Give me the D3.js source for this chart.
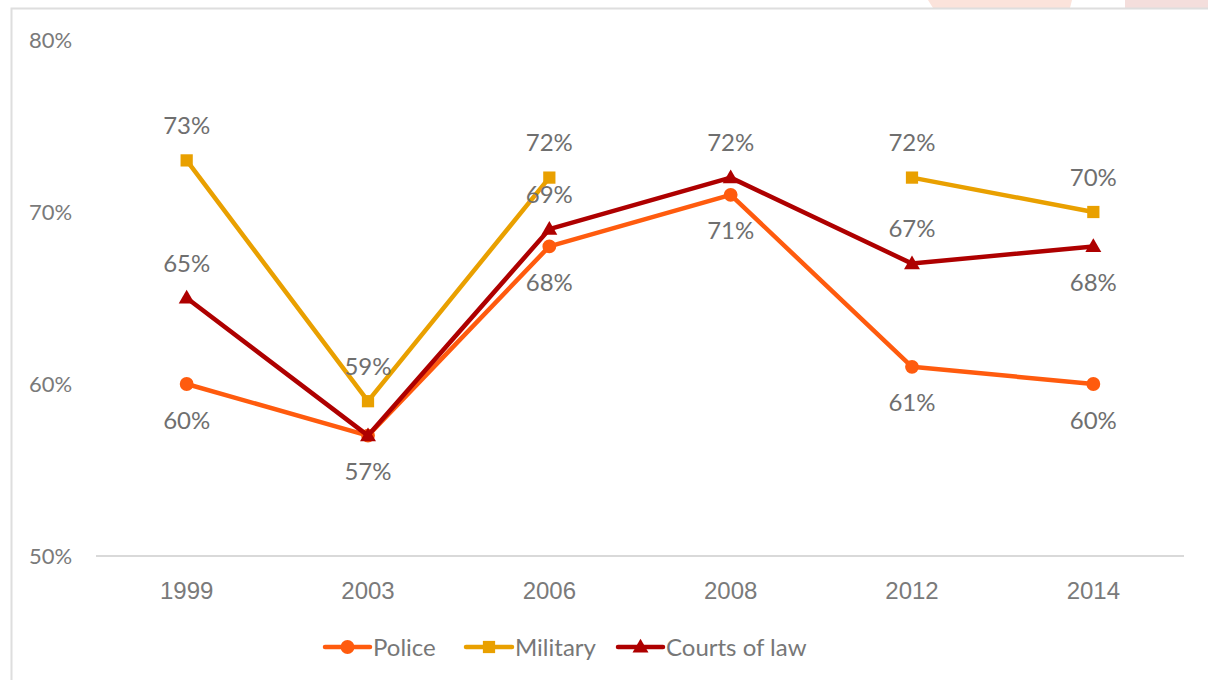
<!DOCTYPE html>
<html>
<head>
<meta charset="utf-8">
<script src="https://cdn.jsdelivr.net/npm/d3@7"></script>
<style>
  html, body { margin: 0; padding: 0; background: #fff; }
  svg { display: block; font-family: "Century Gothic", Lato, "DejaVu Sans", sans-serif; }
</style>
</head>
<body>
<svg id="chart" width="1208" height="680"></svg>
<script>
// Survey years and trust levels (%) per institution
const years = ["1999", "2003", "2006", "2008", "2012", "2014"];
const police = [60, 57, 68, 71, 61, 60];
const military = [73, 59, 72, null, 72, 70];
const courts = [65, 57, 69, 72, 67, 68];
const yTicks = [50, 60, 70, 80];

// where each value label sits relative to its point ("none" = shares the police label)
const policeLabelSide = ["below", "below", "below", "below", "below", "below"];
const militaryLabelSide = ["above", "above", "above", "above", "above", "above"];
const courtsLabelSide = ["above", "none", "above", "above", "above", "below"];

const series = [
  { name: "Police", values: police, sides: policeLabelSide, color: "#FF5B0E", shape: "circle" },
  { name: "Military", values: military, sides: militaryLabelSide, color: "#E9A000", shape: "square" },
  { name: "Courts of law", values: courts, sides: courtsLabelSide, color: "#AE0000", shape: "triangle" }
];

const svg = d3.select("#chart");

// decorative header strip and frame
svg.append("polygon").attr("points", "928,0 1072,0 1070,8 933,8").attr("fill", "#FBE3DB");
svg.append("polygon").attr("points", "1125,0 1208,0 1208,8 1125,8").attr("fill", "#F4DEDC");
svg.append("rect").attr("x", 11.5).attr("y", 8.5).attr("width", 1210).attr("height", 700)
  .attr("fill", "none").attr("stroke", "#DEDEDE").attr("stroke-width", 2);

const plot = { left: 96, right: 1184, top: 40, bottom: 556 };

const x = d3.scaleBand().domain(years).range([plot.left, plot.right]).padding(0);
const y = d3.scaleLinear().domain([50, 80]).range([plot.bottom, plot.top]);
const cx = d => x(d) + x.bandwidth() / 2;

// baseline
svg.append("line")
  .attr("x1", plot.left).attr("x2", plot.right)
  .attr("y1", y(50)).attr("y2", y(50))
  .attr("stroke", "#D9D9D9").attr("stroke-width", 2);

// y tick labels
svg.append("g").selectAll("text").data(yTicks).join("text")
  .attr("x", 29).attr("y", d => y(d)).attr("dy", "0.36em")
  .attr("fill", "#7A7A7A").attr("font-size", 22)
  .text(d => d + "%");

// x tick labels
const xAxis = d3.axisBottom(x).tickSize(0).tickPadding(0);
const gx = svg.append("g").attr("transform", `translate(0,${y(50)})`).call(xAxis);
gx.select(".domain").remove();
gx.selectAll("text")
  .attr("y", 34).attr("dy", "0.36em")
  .attr("fill", "#7A7A7A").attr("font-size", 24).attr("font-family", null);

const tri = d3.symbol().type(d3.symbolTriangle).size(110);
const sq = d3.symbol().type(d3.symbolSquare).size(150);
const circ = d3.symbol().type(d3.symbolCircle).size(150);
const symFor = s => s === "circle" ? circ : s === "square" ? sq : tri;

const line = d3.line()
  .defined(d => d.v != null)
  .x(d => cx(d.year))
  .y(d => y(d.v));

series.forEach(s => {
  const pts = years.map((yr, i) => ({ year: yr, v: s.values[i], side: s.sides[i] }));
  const g = svg.append("g");
  g.append("path").datum(pts)
    .attr("d", line)
    .attr("fill", "none").attr("stroke", s.color)
    .attr("stroke-width", 4.5).attr("stroke-linejoin", "round").attr("stroke-linecap", "round");
  const valid = pts.filter(d => d.v != null);
  g.selectAll("path.mk").data(valid).join("path").attr("class", "mk")
    .attr("transform", d => `translate(${cx(d.year)},${y(d.v) + (s.shape === "triangle" ? 1 : 0)})`)
    .attr("d", symFor(s.shape)())
    .attr("fill", s.color);
  s.valid = valid;
});

// value labels
series.forEach(s => {
  svg.append("g").selectAll("text").data(s.valid.filter(d => d.side !== "none")).join("text")
    .attr("x", d => cx(d.year))
    .attr("y", d => y(d.v) + (d.side === "above" ? -35 : 36))
    .attr("dy", "0.36em")
    .attr("text-anchor", "middle")
    .attr("fill", "#6F6F6F").attr("font-size", 24)
    .text(d => d.v + "%");
});

// legend
const legendItems = [
  { s: series[0], x: 325, w: 45 },
  { s: series[1], x: 466, w: 46 },
  { s: series[2], x: 618, w: 45 }
];
const lg = svg.append("g");
legendItems.forEach(it => {
  const ly = 647;
  lg.append("line").attr("x1", it.x).attr("x2", it.x + it.w).attr("y1", ly).attr("y2", ly)
    .attr("stroke", it.s.color).attr("stroke-width", 4.5).attr("stroke-linecap", "round");
  lg.append("path").attr("transform", `translate(${it.x + it.w / 2},${ly + (it.s.shape === "triangle" ? 1 : 0)})`)
    .attr("d", symFor(it.s.shape)()).attr("fill", it.s.color);
  lg.append("text").attr("x", it.x + it.w + 3).attr("y", ly).attr("dy", "0.36em")
    .attr("fill", "#777").attr("font-size", 24).text(it.s.name);
});
</script>
</body>
</html>
